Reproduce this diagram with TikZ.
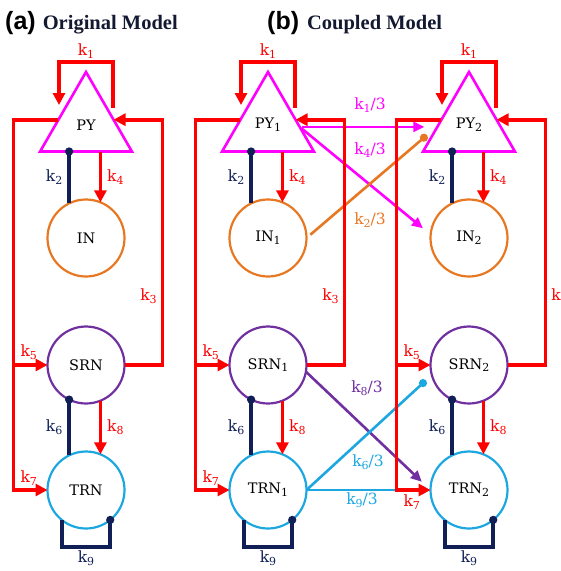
\documentclass[tikz,border=0pt]{standalone}
\usepackage{fontspec}
\setmainfont{DejaVu Serif}
\newfontfamily\headsans{Liberation Sans}
\newfontfamily\headserif{Liberation Serif}
\newcommand{\sbs}[1]{\raisebox{-0.35ex}{\fontsize{11}{12}\selectfont #1}}
\usetikzlibrary{arrows.meta,calc,positioning,shapes.geometric}

\definecolor{kred}{RGB}{255,0,0}
\definecolor{kmag}{RGB}{255,0,255}
\definecolor{korange}{RGB}{232,119,34}
\definecolor{kpurple}{RGB}{112,48,160}
\definecolor{kcyan}{RGB}{28,167,225}
\definecolor{knavy}{RGB}{16,32,86}
\definecolor{khead}{RGB}{20,25,50}

\begin{document}
\begin{tikzpicture}[
  x=1pt, y=1pt,
  font=\fontsize{14.5}{17}\selectfont,
  pyr/.style={regular polygon, regular polygon sides=3, draw=kmag, line width=2.6pt,
              minimum size=106pt, inner sep=0pt, outer sep=0pt},
  cell/.style={circle, line width=2.2pt, minimum size=77pt, inner sep=0pt, outer sep=0pt},
  rarr/.style={draw=kred, line width=3.6pt, -{Triangle[length=12pt,width=12pt]}},
  inh/.style={draw=knavy, line width=3.6pt, -{Circle[length=8pt]}, shorten >=-4pt},
  cpl/.style={line width=2.6pt, -{Triangle[length=11pt,width=10pt]}},
  cpld/.style={line width=2.6pt, -{Circle[length=8pt]}},
  klab/.style={font=\fontsize{15.5}{18}\selectfont, inner sep=1pt},
  kr/.style={klab, text=kred},
  kn/.style={klab, text=knavy},
  head/.style={anchor=west, inner sep=0pt},
]
\useasboundingbox (0,0) rectangle (561,-571);

% ---- titles ----
\node[head] (ta) at (5,-23) {{\headsans\bfseries\fontsize{25}{28}\selectfont (a)}\hspace{7pt}{\color{khead}\headserif\bfseries\fontsize{20.5}{24}\selectfont Original Model}};
\node[head] (tb) at (267,-23) {{\headsans\bfseries\fontsize{25}{28}\selectfont (b)}\hspace{8pt}{\color{khead}\headserif\bfseries\fontsize{20.5}{24}\selectfont Coupled Model}};

% ---- populations of each module ----
\foreach \m/\X/\sub in {a/86/, 1/268/\sbs{1}, 2/469/\sbs{2}}{
  \node[pyr] (py\m) at (\X,-125) {PY\sub};
  \node[cell, draw=korange, below=48pt of py\m] (in\m)  {IN\sub};
  \node[cell, draw=kpurple, below=50pt of in\m] (srn\m) {SRN\sub};
  \node[cell, draw=kcyan, below=48pt of srn\m]  (trn\m) {TRN\sub};
}

% ---- coupling between the two modules ----
\draw[cpl, kmag, shorten <=2pt, shorten >=13pt] ($(py1.corner 1)!0.69!(py1.corner 3)$) -- ($(py2.corner 1)!0.69!(py2.corner 2)$);
\draw[cpl, kmag, shorten <=2pt, shorten >=10pt] ($(py1.corner 1)!0.69!(py1.corner 3)$) -- (in2.175);
\draw[cpld, korange, shorten <=5pt, shorten >=14.5pt] (in1.east) -- ($(py2.corner 1)!0.675!(py2.corner 2)$);
\draw[cpl, kpurple, shorten >=12pt] (srn1.-10) -- (trn2.west);
\draw[cpld, kcyan, shorten >=8pt] (trn1.east) -- (srn2.195);
\draw[cpld, kcyan, shorten >=4pt] (trn1.east) -- (trn2.west);

\node[klab, text=kmag] (l13) at (370,-105) {k\sbs{1}/3};
\node[klab, text=kmag] (l43) at (370,-150) {k\sbs{4}/3};
\node[klab, text=korange] (l23) at (370,-220) {k\sbs{2}/3};
\node[klab, text=kpurple] (l83) at (367,-388) {k\sbs{8}/3};
\node[klab, text=kcyan] (l63) at (368,-462) {k\sbs{6}/3};
\node[klab, text=kcyan] (l93) at (362,-500) {k\sbs{9}/3};

% ---- connections inside each module ----
\foreach \m/\ksev/\kthr in {a/above/left, 1/above/left, 2/below/right}{
  % self excitation of PY
  \draw[rarr] ($(py\m.corner 1)+(27,-36)$) -- ++(0,46)
    -| node[kr, pos=0.25, above=1pt] {k\sbs{1}} ($(py\m.corner 1)+(-27,-33)$);
  % PY to thalamus
  \draw[rarr] ($(py\m.corner 1)!0.6!(py\m.corner 2)$) -| ($(trn\m.west)+(-34,0)$)
    -- node[kr, pos=0.45, \ksev=2pt] {k\sbs{7}} (trn\m.west);
  \draw[rarr] ($(srn\m.west)+(-34,0)$) -- node[kr, pos=0.45, above=3pt] {k\sbs{5}} (srn\m.west);
  % SRN back to PY
  \draw[rarr] (srn\m.east) -| node[kr, pos=0.64, \kthr=3pt] {k\sbs{3}}
    ($(py\m.corner 1)!0.6!(py\m.corner 3)+(49,0)$) -- ($(py\m.corner 1)!0.6!(py\m.corner 3)$);
  % PY <-> IN
  \draw[inh] (in\m.116) -- node[kn, left=4pt] {k\sbs{2}} (in\m.116 |- py\m.south);
  \draw[rarr] (in\m.68 |- py\m.south) -- node[kr, right=4pt] {k\sbs{4}} (in\m.68);
  % SRN <-> TRN
  \draw[inh] (trn\m.116) -- node[kn, left=4pt] {k\sbs{6}} (srn\m.244);
  \draw[rarr] (srn\m.292) -- node[kr, right=4pt] {k\sbs{8}} (trn\m.68);
  % TRN self inhibition
  \draw[inh] (trn\m.231) -- ++(0,-27) -| node[kn, pos=0.25, below=1pt] {k\sbs{9}} (trn\m.309);
}
\end{tikzpicture}
\end{document}
